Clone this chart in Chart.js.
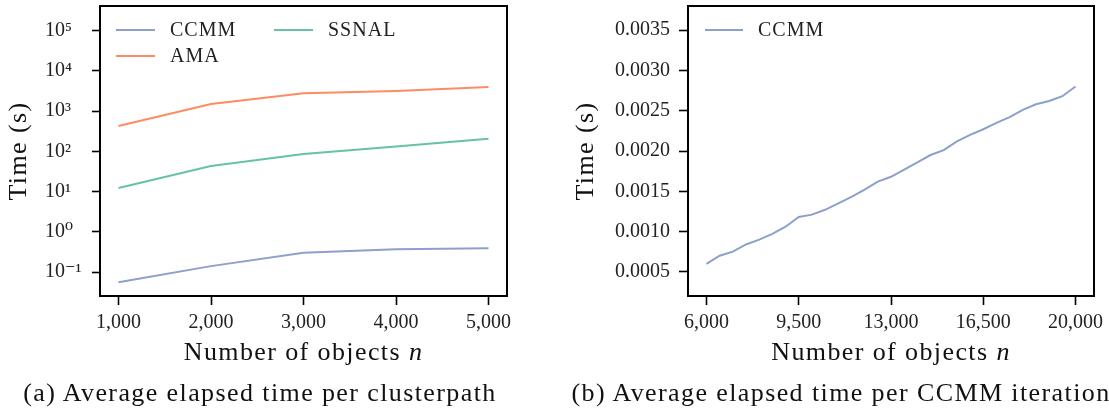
<!DOCTYPE html>
<html><head><meta charset="utf-8">
<script src="https://cdn.jsdelivr.net/npm/chart.js@4/dist/chart.umd.min.js"></script>
<style>
html,body{margin:0;padding:0;background:#fff;}
#wrap{position:relative;width:1109px;height:408px;overflow:hidden;background:#fff;}
.c{position:absolute;top:0;}
.cap{position:absolute;font-family:'Liberation Serif','DejaVu Serif',serif;font-size:26px;letter-spacing:1.4px;color:#111;white-space:nowrap;transform:translateX(-50%);line-height:1;}
</style></head><body>
<div id="wrap">
<canvas id="a" class="c" style="left:0" width="555" height="408"></canvas>
<canvas id="b" class="c" style="left:555px" width="554" height="408"></canvas>
<div class="cap" style="left:260px;top:380px">(a) Average elapsed time per clusterpath</div>
<div class="cap" style="left:841px;top:380px">(b) Average elapsed time per CCMM iteration</div>
</div>
<script>
// ---- data ----
const nSmall = [1000, 2000, 3000, 4000, 5000];
const ccmmTime = [0.056, 0.14, 0.30, 0.37, 0.39];
const amaTime = [427, 1490, 2760, 3150, 3950];
const ssnalTime = [12.2, 43, 86, 131, 205];

const nLarge = [6000, 6500, 7000, 7500, 8000, 8500, 9000, 9500, 10000, 10500, 11000, 11500, 12000, 12500,
  13000, 13500, 14000, 14500, 15000, 15500, 16000, 16500, 17000, 17500, 18000, 18500, 19000, 19500, 20000];
const ccmmIter = [0.00060, 0.00070, 0.00075, 0.00084, 0.00090, 0.00097, 0.00106, 0.00118, 0.00121, 0.00127,
  0.00135, 0.00143, 0.00152, 0.00162, 0.00168, 0.00177, 0.00186, 0.00195, 0.00201, 0.00212, 0.00220, 0.00227,
  0.00235, 0.00242, 0.00251, 0.00258, 0.00262, 0.00268, 0.00280];

const smallTicks = [1000, 2000, 3000, 4000, 5000];
const largeTicks = [6000, 9500, 13000, 16500, 20000];
const logTicks = [0.1, 1, 10, 100, 1000, 10000, 100000];
const iterTicks = [0.0005, 0.0010, 0.0015, 0.0020, 0.0025, 0.0030, 0.0035];

const C_CCMM = '#8da0cb', C_AMA = '#fc8d62', C_SSNAL = '#66c2a5';

// ---- setup ----
const SERIF = "'Liberation Serif','DejaVu Serif',serif";
Chart.defaults.font.family = SERIF;
Chart.defaults.color = '#000';
Chart.defaults.animation = false;

const SUP = {'-':'\u207B','0':'\u2070','1':'\u00B9','2':'\u00B2','3':'\u00B3','4':'\u2074','5':'\u2075','6':'\u2076','7':'\u2077','8':'\u2078','9':'\u2079'};
const sup = e => String(e).split('').map(c => SUP[c]).join('');

const framePlugin = {
  id: 'frame',
  afterDraw(chart) {
    const {ctx, chartArea: a} = chart;
    ctx.save();
    ctx.strokeStyle = '#000';
    ctx.lineWidth = 2;
    ctx.strokeRect(a.left, a.top, a.right - a.left, a.bottom - a.top);
    ctx.restore();
  }
};

const titlesPlugin = {
  id: 'axisTitles',
  afterDraw(chart, args, o) {
    const {ctx, chartArea: a} = chart;
    ctx.save();
    ctx.fillStyle = '#111';
    ctx.textBaseline = 'alphabetic';
    ctx.letterSpacing = '1.4px';
    const f1 = '26px ' + SERIF, f2 = 'italic 26px ' + SERIF;
    ctx.font = f1; const w1 = ctx.measureText(o.x).width;
    ctx.font = f2; const w2 = ctx.measureText(o.xi).width;
    const x = (a.left + a.right) / 2 - (w1 + w2) / 2;
    ctx.font = f1; ctx.textAlign = 'left'; ctx.fillText(o.x, x, o.xBase);
    ctx.font = f2; ctx.fillText(o.xi, x + w1, o.xBase);
    ctx.translate(o.yX, (a.top + a.bottom) / 2);
    ctx.rotate(-Math.PI / 2);
    ctx.font = f1; ctx.textAlign = 'center'; ctx.textBaseline = 'middle';
    ctx.fillText(o.y, 0, 0);
    ctx.restore();
  }
};

const legendPlugin = {
  id: 'boxLegend',
  afterDraw(chart, args, o) {
    const {ctx, chartArea: a} = chart;
    const ds = chart.data.datasets;
    const rows = Math.ceil(ds.length / o.cols);
    ctx.save();
    ctx.font = '20px ' + SERIF;
    ctx.letterSpacing = '1px';
    ctx.textBaseline = 'middle';
    ctx.textAlign = 'left';
    ds.forEach((d, i) => {
      const col = Math.floor(i / rows), row = i % rows;
      const x = a.left + o.x0 + col * o.colW;
      const y = a.top + o.y0 + row * o.rowH;
      ctx.strokeStyle = d.borderColor;
      ctx.lineWidth = 2;
      ctx.beginPath(); ctx.moveTo(x, y); ctx.lineTo(x + o.len, y); ctx.stroke();
      ctx.fillStyle = '#222';
      ctx.fillText(d.label, x + o.len + o.gap, y + 1);
    });
    ctx.restore();
  }
};

function xScale(min, max, ticks, h) {
  return {
    type: 'linear', min, max,
    afterBuildTicks: s => { s.ticks = ticks.map(v => ({value: v})); },
    afterFit: s => { s.height = h; s.paddingLeft = 0; s.paddingRight = 0; },
    ticks: {callback: v => v.toLocaleString('en-US'), font: {size: 20}, color: '#222', padding: 6, maxRotation: 0, autoSkip: false},
    grid: {drawOnChartArea: false, drawTicks: true, tickLength: 9, tickWidth: 1.6, tickColor: '#000'},
    border: {display: false}
  };
}

new Chart(document.getElementById('a'), {
  type: 'line',
  data: {
    datasets: [
      {label: 'CCMM', data: nSmall.map((n, i) => ({x: n, y: ccmmTime[i]})), borderColor: C_CCMM},
      {label: 'AMA', data: nSmall.map((n, i) => ({x: n, y: amaTime[i]})), borderColor: C_AMA},
      {label: 'SSNAL', data: nSmall.map((n, i) => ({x: n, y: ssnalTime[i]})), borderColor: C_SSNAL}
    ]
  },
  options: {
    responsive: false,
    elements: {line: {borderWidth: 2, tension: 0}, point: {radius: 0}},
    layout: {padding: {left: 45, top: 6, right: 48, bottom: 0}},
    scales: {
      x: xScale(800, 5200, smallTicks, 112),
      y: {
        type: 'logarithmic', min: Math.pow(10, -1.596), max: Math.pow(10, 5.61),
        afterBuildTicks: s => { s.ticks = logTicks.map(v => ({value: v})); },
        afterFit: s => { s.width = 55; s.paddingTop = 0; s.paddingBottom = 0; },
        ticks: {callback: v => '10' + sup(Math.round(Math.log10(v))), font: {size: 20}, color: '#222', crossAlign: 'far', padding: 3, autoSkip: false},
        grid: {drawOnChartArea: false, drawTicks: true, tickLength: 8, tickWidth: 1.6, tickColor: '#000'},
        border: {display: false}
      }
    },
    plugins: {
      legend: {display: false}, tooltip: {enabled: false},
      axisTitles: {x: 'Number of objects ', xi: 'n', xBase: 360, y: 'Time (s)', yX: 19},
      boxLegend: {cols: 2, x0: 16, y0: 24, colW: 158, rowH: 26, len: 39, gap: 15}
    }
  },
  plugins: [framePlugin, titlesPlugin, legendPlugin]
});

new Chart(document.getElementById('b'), {
  type: 'line',
  data: {
    datasets: [
      {label: 'CCMM', data: nLarge.map((n, i) => ({x: n, y: ccmmIter[i]})), borderColor: C_CCMM}
    ]
  },
  options: {
    responsive: false,
    elements: {line: {borderWidth: 2, tension: 0}, point: {radius: 0}},
    layout: {padding: {left: 0, top: 6, right: 15, bottom: 0}},
    scales: {
      x: xScale(5300, 20700, largeTicks, 112),
      y: {
        type: 'linear', min: 0.0002, max: 0.0038,
        afterBuildTicks: s => { s.ticks = iterTicks.map(v => ({value: v})); },
        afterFit: s => { s.width = 133; s.paddingTop = 0; s.paddingBottom = 0; },
        ticks: {callback: v => v.toFixed(4), font: {size: 20}, color: '#222', padding: 9, autoSkip: false},
        grid: {drawOnChartArea: false, drawTicks: true, tickLength: 9, tickWidth: 1.6, tickColor: '#000'},
        border: {display: false}
      }
    },
    plugins: {
      legend: {display: false}, tooltip: {enabled: false},
      axisTitles: {x: 'Number of objects ', xi: 'n', xBase: 360, y: 'Time (s)', yX: 31},
      boxLegend: {cols: 1, x0: 17, y0: 24, colW: 158, rowH: 26, len: 38, gap: 15}
    }
  },
  plugins: [framePlugin, titlesPlugin, legendPlugin]
});
</script>
</body></html>
